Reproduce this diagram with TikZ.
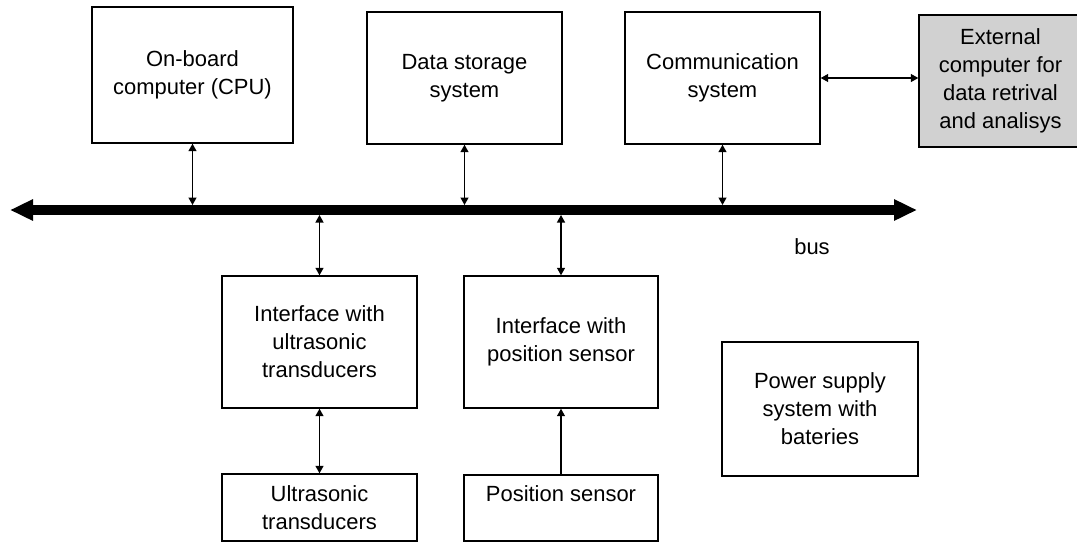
\documentclass[tikz,border=0pt]{standalone}
\usepackage{fontspec}
\setmainfont{Liberation Sans}
\usetikzlibrary{arrows.meta}

\tikzset{
  blk/.style={draw, line width=0.8pt, align=center, inner sep=0pt,
    font=\fontsize{12.5}{16}\selectfont},
  link/.style={line width=0.7pt,
    {Triangle[length=0.15cm,width=0.16cm]}-{Triangle[length=0.15cm,width=0.16cm]}},
  uplink/.style={line width=0.7pt, -{Triangle[length=0.15cm,width=0.16cm]}},
  busline/.style={line width=0.2cm,
    {Triangle[length=0.46cm,width=0.4cm]}-{Triangle[length=0.46cm,width=0.4cm]}}
}

\begin{document}
\begin{tikzpicture}
\useasboundingbox (0,0) rectangle (21.54,-10.84);

% top row
\node[blk, minimum width=4.02cm, minimum height=2.72cm] (cpu) at (3.85,-1.5) {On-board\\computer (CPU)};
\node[blk, minimum width=3.9cm, minimum height=2.64cm] (store) at (9.29,-1.56) {Data storage\\system};
\node[blk, minimum width=3.9cm, minimum height=2.64cm] (comm) at (14.45,-1.56) {Communication\\system};
\node[blk, fill=black!18, minimum width=3.26cm, minimum height=2.64cm] (ext) at (20.01,-1.62) {External\\computer for\\data retrival\\and analisys};

% bus
\coordinate (busL) at (0.2,-4.2);
\coordinate (busR) at (18.34,-4.2);
\draw[busline] (busL) -- (busR);
\node[font=\fontsize{12.5}{16}\selectfont] (buslabel) at (16.24,-4.94) {bus};

% interfaces
\node[blk, minimum width=3.9cm, minimum height=2.64cm] (ifus) at (6.39,-6.84) {Interface with\\ultrasonic\\transducers};
\node[blk, minimum width=3.88cm, minimum height=2.64cm] (ifpos) at (11.22,-6.84) {Interface with\\position sensor};
\node[blk, minimum width=3.92cm, minimum height=2.68cm] (power) at (16.4,-8.18) {Power supply\\system with\\bateries};

% bottom row
\node[blk, minimum width=3.9cm, minimum height=1.34cm] (ustr) at (6.39,-10.15) {Ultrasonic\\transducers};
\node[blk, minimum width=3.88cm, minimum height=1.32cm] (possens) at (11.22,-10.16) {Position sensor\\ \mbox{}};

% connections
\draw[link, shorten >=1mm] (cpu.south) -- (cpu.south |- busL);
\draw[link, shorten >=1mm] (store.south) -- (store.south |- busL);
\draw[link, shorten >=1mm] (comm.south) -- (comm.south |- busL);
\draw[link] (comm.east) -- (comm.east -| ext.west);
\draw[link, shorten <=1mm] (ifus.north |- busL) -- (ifus.north);
\draw[link, shorten <=1mm] (ifpos.north |- busL) -- (ifpos.north);
\draw[link] (ifus.south) -- (ustr.north);
\draw[uplink] (possens.north) -- (ifpos.south);

\end{tikzpicture}
\end{document}
